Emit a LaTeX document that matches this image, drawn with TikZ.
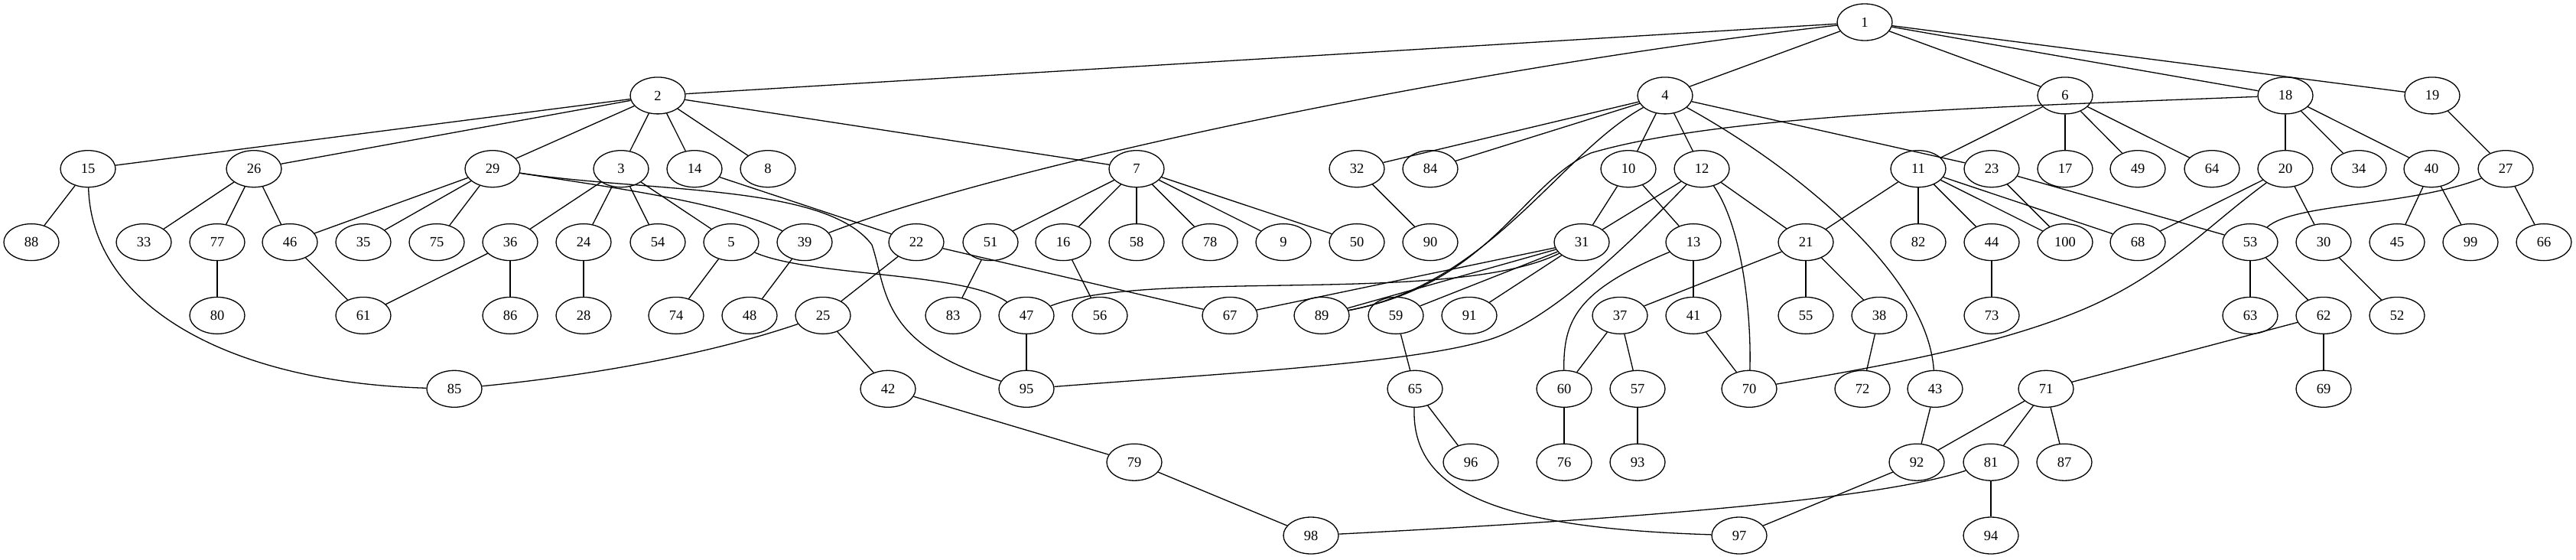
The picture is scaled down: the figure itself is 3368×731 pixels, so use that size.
\documentclass[tikz,border=0pt]{standalone}
\usepackage{fontspec}
\setmainfont{Liberation Serif}
\usetikzlibrary{shapes.geometric}
\begin{document}
\begin{tikzpicture}[x=1pt,y=-1pt,
  nd/.style={draw, ellipse, line width=1.3pt, minimum width=72pt, minimum height=48pt, inner sep=0pt, font=\fontsize{18.5}{20}\selectfont},
  ed/.style={line width=1.3pt}]
\useasboundingbox (0,0) rectangle (3368,731);
\def\ra{29}\def\rb{124.9}\def\rc{220.7}\def\rd{316.6}\def\re{412.4}\def\rf{508.3}\def\rg{604.2}\def\rh{700}
% row 0
\node[nd] (n1) at (2438,\ra) {1};
% row 1
\foreach \n/\x in {2/860,4/2177,6/2700,18/2988,19/3180}
  \node[nd] (n\n) at (\x,\rb) {\n};
% row 2
\foreach \n/\x in {15/115,26/332,29/644,3/812,14/908,8/1004,7/1486,32/1774,84/1870,10/2129,12/2225,11/2508,23/2604,17/2700,49/2795,64/2892,20/2988,34/3084,40/3179,27/3276}
  \node[nd] (n\n) at (\x,\rc) {\n};
% row 3
\foreach \n/\x in {88/41,33/188,77/284,46/379,35/475,75/571,36/667,24/763,54/860,5/956,39/1052,22/1198,51/1295,16/1390,58/1486,78/1582,9/1678,50/1774,90/1870,31/2068,13/2214,21/2361,82/2508,44/2604,100/2700,68/2795,53/2942,30/3038,45/3134,99/3230,66/3326}
  \node[nd] (n\n) at (\x,\rd) {\n};
% row 4
\foreach \n/\x in {80/284,61/475,86/667,28/763,74/884,48/980,25/1076,83/1246,47/1342,56/1438,67/1608,89/1728,59/1825,91/1921,37/2118,41/2214,55/2361,38/2457,73/2604,63/2942,62/3038,52/3134}
  \node[nd] (n\n) at (\x,\re) {\n};
% row 5
\foreach \n/\x in {85/594,42/1161,95/1342,65/1850,60/2045,57/2141,70/2287,72/2435,43/2530,71/2675,69/3038}
  \node[nd] (n\n) at (\x,\rf) {\n};
% row 6
\foreach \n/\x in {79/1483,96/1923,76/2045,93/2141,92/2506,81/2603,87/2699}
  \node[nd] (n\n) at (\x,\rg) {\n};
% row 7
\foreach \n/\x in {98/1714,97/2274,94/2603}
  \node[nd] (n\n) at (\x,\rh) {\n};
% straight edges
\foreach \a/\b in {1/2,1/4,1/6,1/18,1/19,
  2/15,2/26,2/29,2/3,2/14,2/8,2/7,
  4/32,4/84,4/10,4/12,4/23,
  6/11,6/17,6/49,6/64,
  18/20,18/34,18/40,19/27,15/88,
  26/33,26/77,26/46,29/46,29/35,29/75,
  3/36,3/24,3/54,3/5,14/22,
  7/51,7/16,7/58,7/78,7/9,7/50,32/90,
  10/31,10/13,12/31,12/21,
  11/21,11/82,11/44,11/100,11/68,
  23/100,23/53,20/68,20/30,40/45,40/99,27/66,
  77/80,46/61,36/61,36/86,24/28,5/74,39/48,
  22/25,22/67,51/83,16/56,
  31/67,31/89,31/59,31/91,13/41,
  21/37,21/55,21/38,44/73,
  53/63,53/62,30/52,
  25/42,47/95,59/65,37/60,37/57,41/70,38/72,43/92,
  62/69,62/71,42/79,65/96,60/76,57/93,71/92,71/81,71/87,
  79/98,92/97,81/94}
  \draw[ed] (n\a) -- (n\b);
% curved edges
\draw[ed] (n1) .. controls (1900,90) and (1300,220) .. (n39);
\draw[ed] (n15) .. controls (120,400) and (300,500) .. (n85);
\draw[ed] (n25) .. controls (930,462) and (780,490) .. (n85);
\draw[ed] (n29) .. controls (800,245) and (950,265) .. (n39);
\draw[ed] (n29) .. controls (850,252) and (1080,240) .. (1140,320)
  .. controls (1160,380) and (1150,450) .. (n95);
\draw[ed] (n5) .. controls (1060,362) and (1260,355) .. (n47);
\draw[ed] (n47) .. controls (1500,350) and (1900,400) .. (n31);
\draw[ed] (n4) .. controls (2040,200) and (1950,370) .. (n89);
\draw[ed] (n18) .. controls (2600,140) and (2250,150) .. (2080,200)
  .. controls (1990,240) and (1950,370) .. (n89);
\draw[ed] (n4) .. controls (2350,220) and (2520,360) .. (n43);
\draw[ed] (n12) .. controls (2110,340) and (2020,420) .. (1950,443)
  .. controls (1850,475) and (1600,488) .. (n95);
\draw[ed] (n12) .. controls (2280,300) and (2290,420) .. (n70);
\draw[ed] (n20) .. controls (2880,300) and (2830,360) .. (2720,406)
  .. controls (2600,455) and (2450,480) .. (n70);
\draw[ed] (n27) .. controls (3150,270) and (3000,265) .. (n53);
\draw[ed] (n81) .. controls (2450,655) and (2100,680) .. (n98);
\draw[ed] (n65) .. controls (1845,640) and (1950,690) .. (n97);
\draw[ed] (n13) .. controls (2060,380) and (2044,420) .. (n60);
\end{tikzpicture}
\end{document}
